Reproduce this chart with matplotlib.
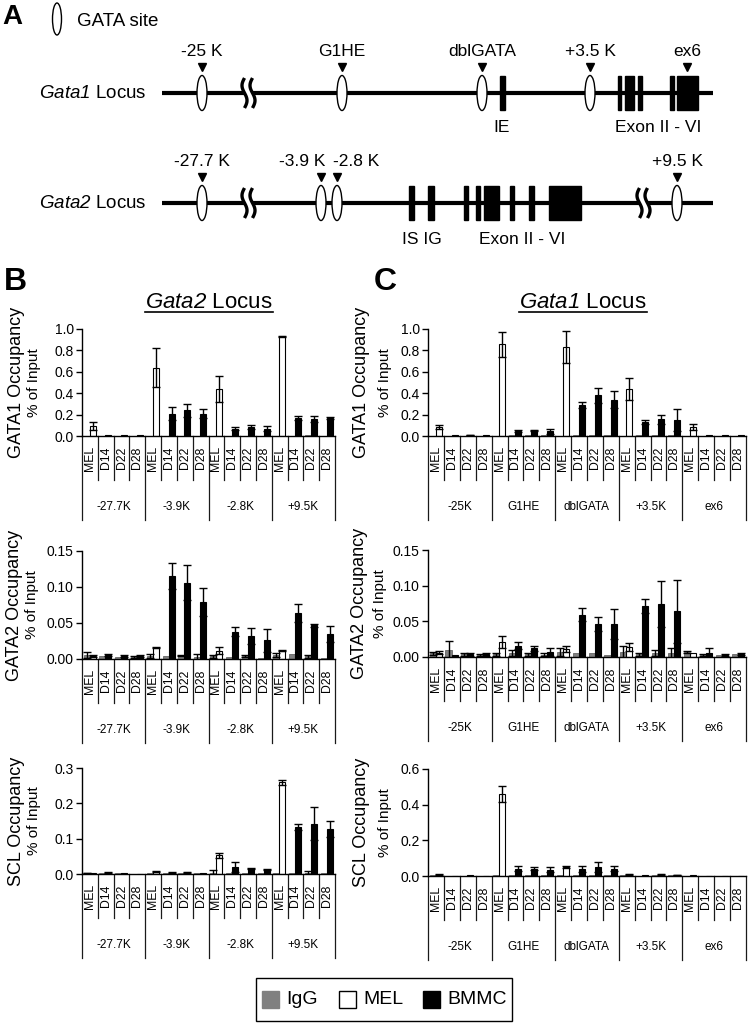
import numpy as np
import matplotlib
matplotlib.use("Agg")
import matplotlib.pyplot as plt
from matplotlib.patches import Ellipse, Rectangle
from matplotlib.transforms import blended_transform_factory

plt.rcParams['font.family'] = ['Liberation Sans', 'DejaVu Sans']
plt.rcParams['mathtext.fontset'] = 'custom'
plt.rcParams['mathtext.rm'] = 'Liberation Sans:italic'
plt.rcParams['mathtext.it'] = 'Liberation Sans:italic'

W, H = 750, 1023

# ---- data ----
cells = ["MEL", "D14", "D22", "D28"]
gata2_sites = ["-27.7K", "-3.9K", "-2.8K", "+9.5K"]
gata1_sites = ["-25K", "G1HE", "dblGATA", "+3.5K", "ex6"]

# B: Gata2 locus
b_gata1_igg = [0.004, 0.003, 0.003, 0.003, 0.004, 0.004, 0.004, 0.004,
               0.004, 0.004, 0.004, 0.004, 0.004, 0.004, 0.006, 0.004]
b_gata1_igg_err = [0] * 16
b_gata1_val = [0.095, 0.012, 0.008, 0.006, 0.64, 0.21, 0.24, 0.21,
               0.44, 0.07, 0.085, 0.07, 0.93, 0.17, 0.16, 0.165]
b_gata1_err = [0.035, 0, 0, 0, 0.18, 0.06, 0.06, 0.04,
               0.12, 0.015, 0.02, 0.025, 0.004, 0.02, 0.03, 0.01]

b_gata2_igg = [0.0055, 0.004, 0.003, 0.003, 0.004, 0.004, 0.005, 0.003,
               0.004, 0.003, 0.004, 0.002, 0.006, 0.007, 0.004, 0.002]
b_gata2_igg_err = [0.004, 0, 0, 0.001, 0.003, 0, 0.001, 0.004,
                   0.002, 0, 0.001, 0, 0.003, 0, 0.002, 0]
b_gata2_val = [0.004, 0.0055, 0.004, 0.004, 0.0157, 0.115, 0.106, 0.079,
               0.0115, 0.038, 0.032, 0.026, 0.0115, 0.064, 0.047, 0.035]
b_gata2_err = [0.001, 0.001, 0.001, 0.001, 0.001, 0.018, 0.024, 0.019,
               0.005, 0.006, 0.011, 0.016, 0.001, 0.012, 0.002, 0.011]

b_scl_igg = [0.003, 0.002, 0.002, 0.001, 0.003, 0.003, 0.003, 0.002,
             0.004, 0.003, 0.004, 0.003, 0.002, 0.003, 0.004, 0.002]
b_scl_igg_err = [0.001, 0, 0, 0, 0, 0, 0, 0, 0.008, 0, 0, 0, 0, 0, 0.004, 0]
b_scl_val = [0.002, 0.004, 0.002, 0.001, 0.007, 0.004, 0.005, 0.003,
             0.053, 0.019, 0.015, 0.012, 0.26, 0.133, 0.142, 0.128]
b_scl_err = [0, 0.001, 0, 0, 0.001, 0.001, 0.001, 0,
             0.007, 0.014, 0.002, 0.002, 0.007, 0.008, 0.047, 0.023]

# C: Gata1 locus
c_gata1_igg = [0.004, 0.003, 0.004, 0.003, 0.004, 0.012, 0.010, 0.010,
               0.004, 0.005, 0.005, 0.005, 0.004, 0.010, 0.010, 0.010,
               0.004, 0.003, 0.003, 0.003]
c_gata1_igg_err = [0] * 20
c_gata1_val = [0.085, 0.006, 0.010, 0.005, 0.856, 0.047, 0.053, 0.044,
               0.835, 0.29, 0.38, 0.34, 0.44, 0.13, 0.155, 0.15,
               0.085, 0.005, 0.005, 0.005]
c_gata1_err = [0.015, 0, 0.003, 0, 0.12, 0.013, 0.005, 0.025,
               0.15, 0.03, 0.07, 0.08, 0.10, 0.02, 0.045, 0.10,
               0.03, 0, 0, 0]

c_gata2_igg = [0.005, 0.010, 0.004, 0.003, 0.004, 0.006, 0.004, 0.003,
               0.007, 0.005, 0.005, 0.003, 0.007, 0.004, 0.006, 0.005,
               0.007, 0.003, 0.003, 0.004]
c_gata2_igg_err = [0.002, 0.013, 0.002, 0.001, 0.002, 0.004, 0.002, 0.002,
                   0.005, 0, 0, 0, 0.008, 0.002, 0.004, 0.007,
                   0.001, 0.001, 0, 0]
c_gata2_val = [0.006, 0.003, 0.004, 0.004, 0.021, 0.016, 0.012, 0.007,
               0.011, 0.059, 0.046, 0.046, 0.014, 0.071, 0.074, 0.064,
               0.005, 0.006, 0.003, 0.004]
c_gata2_err = [0.002, 0, 0.002, 0.002, 0.008, 0.005, 0.004, 0.006,
               0.004, 0.009, 0.010, 0.021, 0.005, 0.010, 0.032, 0.044,
               0, 0.007, 0.001, 0.001]

c_scl_igg = [0.003, 0.002, 0.002, 0.002, 0.003, 0.005, 0.006, 0.008,
             0.008, 0.005, 0.006, 0.006, 0.003, 0.002, 0.003, 0.003,
             0.002, 0.002, 0.002, 0.002]
c_scl_igg_err = [0] * 20
c_scl_val = [0.008, 0.002, 0.003, 0.002, 0.46, 0.041, 0.041, 0.036,
             0.05, 0.038, 0.05, 0.041, 0.010, 0.004, 0.010, 0.007,
             0.003, 0.002, 0.002, 0.002]
c_scl_err = [0.002, 0, 0, 0, 0.045, 0.013, 0.008, 0.014,
             0.005, 0.018, 0.028, 0.015, 0.002, 0, 0.002, 0.001,
             0, 0, 0, 0]

# panel A locus maps (pixel layout)
g1_sites = [202, 342, 482, 590]
g1_marks = [202, 342, 482, 590, 687]
g1_mark_labels = ["-25 K", "G1HE", "dblGATA", "+3.5 K", "ex6"]
g1_exons = [(500, 505), (618, 621), (625, 634), (638, 642), (670, 674), (677, 698)]
g2_sites = [202, 321, 337, 677]
g2_mark_labels = ["-27.7 K", "-3.9 K", "-2.8 K", "+9.5 K"]
g2_label_x = [202, 302, 356, 677]
g2_exons = [(409, 414), (428, 434), (464, 468), (476, 480), (484, 499),
            (510, 514), (529, 534), (549, 581)]

fig = plt.figure(figsize=(W / 100, H / 100), dpi=100)
ax0 = fig.add_axes([0, 0, 1, 1])
ax0.set_xlim(0, W)
ax0.set_ylim(H, 0)
ax0.axis('off')


def brk(xb, y):
    ax0.add_patch(Rectangle((xb - 4.5, y - 3), 9, 6, fc='white', ec='none', zorder=4))
    yy = np.linspace(y - 15, y + 15, 60)
    for xc in (xb - 4, xb + 4):
        ax0.plot(xc - 2.5 * np.sin((yy - y + 15) / 30 * 2 * np.pi), yy,
                 color='black', lw=2.4, zorder=5, solid_capstyle='butt')


def locus(y, label, sites, exons, breaks):
    ax0.plot([162, 713], [y, y], color='black', lw=3, solid_capstyle='butt', zorder=1)
    for a, b in exons:
        ax0.add_patch(Rectangle((a, y - 17), b - a, 34, color='black', zorder=2))
    for xs in sites:
        ax0.add_patch(Ellipse((xs, y), 10, 35, fc='white', ec='black', lw=1, zorder=3))
    for xb in breaks:
        brk(xb, y)
    ax0.text(147, y, label, ha='right', va='center', fontsize=13.5)


locus(93, r'$\mathit{Gata1}$ Locus', g1_sites, g1_exons, [248.5])
locus(203, r'$\mathit{Gata2}$ Locus', g2_sites, g2_exons, [248.5, 643.5])
ax0.plot(g1_marks, [67] * len(g1_marks), 'v', color='black', ms=6)
ax0.plot(g2_sites, [177] * len(g2_sites), 'v', color='black', ms=6)
for x, s in zip(g1_marks, g1_mark_labels):
    ax0.text(x, 51, s, ha='center', va='center', fontsize=12.5)
for x, s in zip(g2_label_x, g2_mark_labels):
    ax0.text(x, 161, s, ha='center', va='center', fontsize=12.5)
ax0.text(502, 128, "IE", ha='center', va='center', fontsize=12.5)
ax0.text(658, 128, "Exon II - VI", ha='center', va='center', fontsize=12.5)
ax0.text(422, 239, "IS IG", ha='center', va='center', fontsize=12.5)
ax0.text(522, 239, "Exon II - VI", ha='center', va='center', fontsize=12.5)
ax0.add_patch(Ellipse((57, 19), 9, 32, fc='white', ec='black', lw=1))
ax0.text(77, 21, "GATA site", ha='left', va='center', fontsize=13.5)

ax0.text(2, 17, "A", ha='left', va='center', fontsize=20, weight='bold')
ax0.text(4, 282, "B", ha='left', va='center', fontsize=23, weight='bold')
ax0.text(374, 282, "C", ha='left', va='center', fontsize=23, weight='bold')

titles = []
titles.append(ax0.text(209, 303, r'$\mathit{Gata2}$ Locus', ha='center', va='center', fontsize=16))
titles.append(ax0.text(583, 303, r'$\mathit{Gata1}$ Locus', ha='center', va='center', fontsize=16))


def panel(l, t, r, b, sites, igg, igg_err, val, err, ymax, step, fmt, lab, lx):
    ax = fig.add_axes([l / W, 1 - b / H, (r - l) / W, (b - t) / H])
    n = len(sites) * 4
    x = np.arange(n)
    cols = ['white' if i % 4 == 0 else 'black' for i in range(n)]
    ax.bar(x + 0.29, igg, 0.38, color='#808080', edgecolor='#555555', lw=0.5, zorder=2)
    ax.bar(x + 0.67, val, 0.38, color=cols, edgecolor='black', lw=0.8, zorder=2)
    for xs, v, e in ((x + 0.29, igg, igg_err), (x + 0.67, val, err)):
        v = np.array(v)
        e = np.array(e)
        m = e > 0
        ax.errorbar(xs[m], v[m], yerr=e[m], fmt='none', ecolor='black',
                    elinewidth=1, capsize=3, capthick=1, zorder=3)
    ax.set_xlim(0, n)
    ax.set_ylim(0, ymax)
    ticks = np.arange(0, ymax + step / 2, step)
    ax.set_yticks(ticks)
    ax.set_yticklabels([fmt % v for v in ticks])
    for s in ('top', 'right'):
        ax.spines[s].set_visible(False)
    for s in ('left', 'bottom'):
        ax.spines[s].set_linewidth(1)
    ax.tick_params(axis='x', bottom=False, labelbottom=False)
    ax.tick_params(axis='y', direction='out', length=4, width=1, labelsize=10, pad=2)
    ax.patch.set_visible(False)

    hp = b - t
    tr = blended_transform_factory(ax.transData, ax.transAxes)
    for i in range(n + 1):
        d = 84 if i % 4 == 0 else 44
        ax.plot([i, i], [0, -d / hp], transform=tr, clip_on=False, color='#1a1a1a', lw=0.9)
    for i in range(n):
        ax.text(i + 0.5, -22 / hp, cells[i % 4], rotation=90, ha='center', va='center',
                fontsize=8.8, transform=tr)
    for g, s in enumerate(sites):
        ax.text(4 * g + 2, -71 / hp, s, ha='center', va='center', fontsize=8.5, transform=tr)

    yc = (t + b) / 2
    ax0.text(lx[0], yc, lab, rotation=90, ha='center', va='center', fontsize=13)
    ax0.text(lx[1], yc, "% of Input", rotation=90, ha='center', va='center', fontsize=11)
    return ax


panel(82, 329, 335, 436, gata2_sites, b_gata1_igg, b_gata1_igg_err, b_gata1_val, b_gata1_err,
      1.0, 0.2, '%.1f', "GATA1 Occupancy", (17, 34))
panel(82, 551, 335, 659, gata2_sites, b_gata2_igg, b_gata2_igg_err, b_gata2_val, b_gata2_err,
      0.15, 0.05, '%.2f', "GATA2 Occupancy", (15, 32))
panel(82, 768, 335, 874, gata2_sites, b_scl_igg, b_scl_igg_err, b_scl_val, b_scl_err,
      0.3, 0.1, '%.1f', "SCL Occupancy", (17, 34))
panel(428, 329, 746, 436, gata1_sites, c_gata1_igg, c_gata1_igg_err, c_gata1_val, c_gata1_err,
      1.0, 0.2, '%.1f', "GATA1 Occupancy", (362, 385))
panel(428, 550, 746, 657, gata1_sites, c_gata2_igg, c_gata2_igg_err, c_gata2_val, c_gata2_err,
      0.15, 0.05, '%.2f', "GATA2 Occupancy", (360, 380))
panel(428, 769, 746, 876, gata1_sites, c_scl_igg, c_scl_igg_err, c_scl_val, c_scl_err,
      0.6, 0.2, '%.1f', "SCL Occupancy", (362, 385))

# legend
ax0.add_patch(Rectangle((256, 978), 256, 43, fc='none', ec='black', lw=1))
for x0, fc, ec, s in ((262, '#808080', '#808080', "IgG"), (339, 'white', 'black', "MEL"),
                      (423, 'black', 'black', "BMMC")):
    ax0.add_patch(Rectangle((x0, 991), 17, 17, fc=fc, ec=ec, lw=1))
    ax0.text(x0 + 24, 1000, s, ha='left', va='center', fontsize=14)

# underline titles
fig.canvas.draw()
for t in titles:
    bb = t.get_window_extent()
    ax0.plot([bb.x0, bb.x1], [312, 312], color='black', lw=1.2)

fig.savefig("out.png", dpi=100)
